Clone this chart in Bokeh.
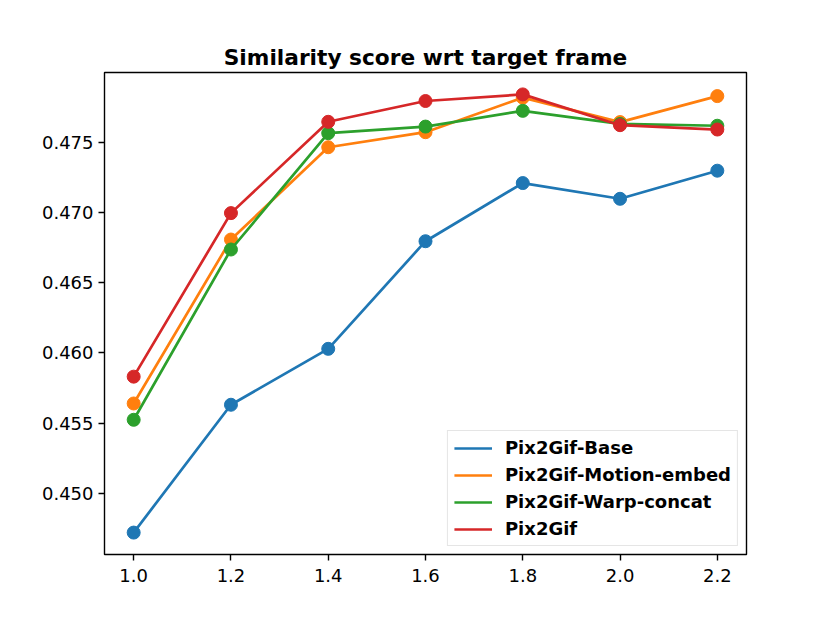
from bokeh.plotting import figure
from bokeh.models import Range1d, FixedTicker, PrintfTickFormatter, Legend, LegendItem
from bokeh.embed import file_html
from bokeh.resources import INLINE

# Data
x = [1.0, 1.2, 1.4, 1.6, 1.8, 2.0, 2.2]
base = [0.44721, 0.45631, 0.46029, 0.46795, 0.47209, 0.47097, 0.47297]
motion_embed = [0.45640, 0.46807, 0.47464, 0.47571, 0.47817, 0.47643, 0.47828]
warp_concat = [0.45524, 0.46736, 0.47564, 0.47611, 0.47723, 0.47630, 0.47617]
pix2gif = [0.45831, 0.46995, 0.47645, 0.47793, 0.47840, 0.47621, 0.47590]

series_names = ["Pix2Gif-Base", "Pix2Gif-Motion-embed", "Pix2Gif-Warp-concat", "Pix2Gif"]
series_values = [base, motion_embed, warp_concat, pix2gif]
colors = ["#1f77b4", "#ff7f0e", "#2ca02c", "#d62728"]

x_ticks = [1.0, 1.2, 1.4, 1.6, 1.8, 2.0, 2.2]
y_ticks = [0.450, 0.455, 0.460, 0.465, 0.470, 0.475]

FONT = "DejaVu Sans"

all_y = [v for s in series_values for v in s]
ymin, ymax = min(all_y), max(all_y)
ym = (ymax - ymin) * 0.05
xm = (max(x) - min(x)) * 0.05

p = figure(
    frame_width=642, frame_height=482,
    min_border_left=104, min_border_top=72, min_border_right=60, min_border_bottom=50,
    x_range=Range1d(min(x) - xm, max(x) + xm),
    y_range=Range1d(ymin - ym, ymax + ym),
    output_backend="svg", toolbar_location=None,
    title="Similarity score wrt target frame",
)

p.title.text_font = FONT
p.title.text_font_size = "21.7px"
p.title.text_font_style = "bold"
p.title.text_color = "black"
p.title.align = "center"
p.title.standoff = 5

p.xgrid.visible = False
p.ygrid.visible = False
p.outline_line_color = "black"
p.outline_line_width = 1.4
p.outline_line_alpha = 1.0
p.background_fill_color = "white"
p.border_fill_color = "white"

for ax in (p.xaxis[0], p.yaxis[0]):
    ax.axis_line_color = None
    ax.major_tick_in = 0
    ax.major_tick_out = 6
    ax.major_tick_line_width = 1.4
    ax.major_tick_line_color = "black"
    ax.minor_tick_line_color = None
    ax.major_label_text_font = FONT
    ax.major_label_text_font_size = "18px"
    ax.major_label_text_color = "black"
    ax.major_label_standoff = 5
p.xaxis[0].major_label_standoff = 8

p.xaxis[0].ticker = FixedTicker(ticks=x_ticks)
p.xaxis[0].formatter = PrintfTickFormatter(format="%.1f")
p.yaxis[0].ticker = FixedTicker(ticks=y_ticks)
p.yaxis[0].formatter = PrintfTickFormatter(format="%.3f")

items = []
for name, vals, c in zip(series_names, series_values, colors):
    r = p.line(x, vals, line_color=c, line_width=2.7)
    p.scatter(x, vals, size=13, fill_color=c, line_color=c)
    items.append(LegendItem(label=name, renderers=[r]))

legend = Legend(
    items=items,
    location="bottom_right",
    margin=8,
    padding=6,
    spacing=6,
    glyph_width=38,
    glyph_height=20,
    label_height=20,
    label_standoff=13,
    label_text_font=FONT,
    label_text_font_size="18px",
    label_text_font_style="bold",
    label_text_color="black",
    border_line_color="#cccccc",
    border_line_width=1.2,
    background_fill_color="white",
    background_fill_alpha=0.8,
)
p.add_layout(legend, "center")

open("out.html", "w").write(file_html(p, INLINE))
